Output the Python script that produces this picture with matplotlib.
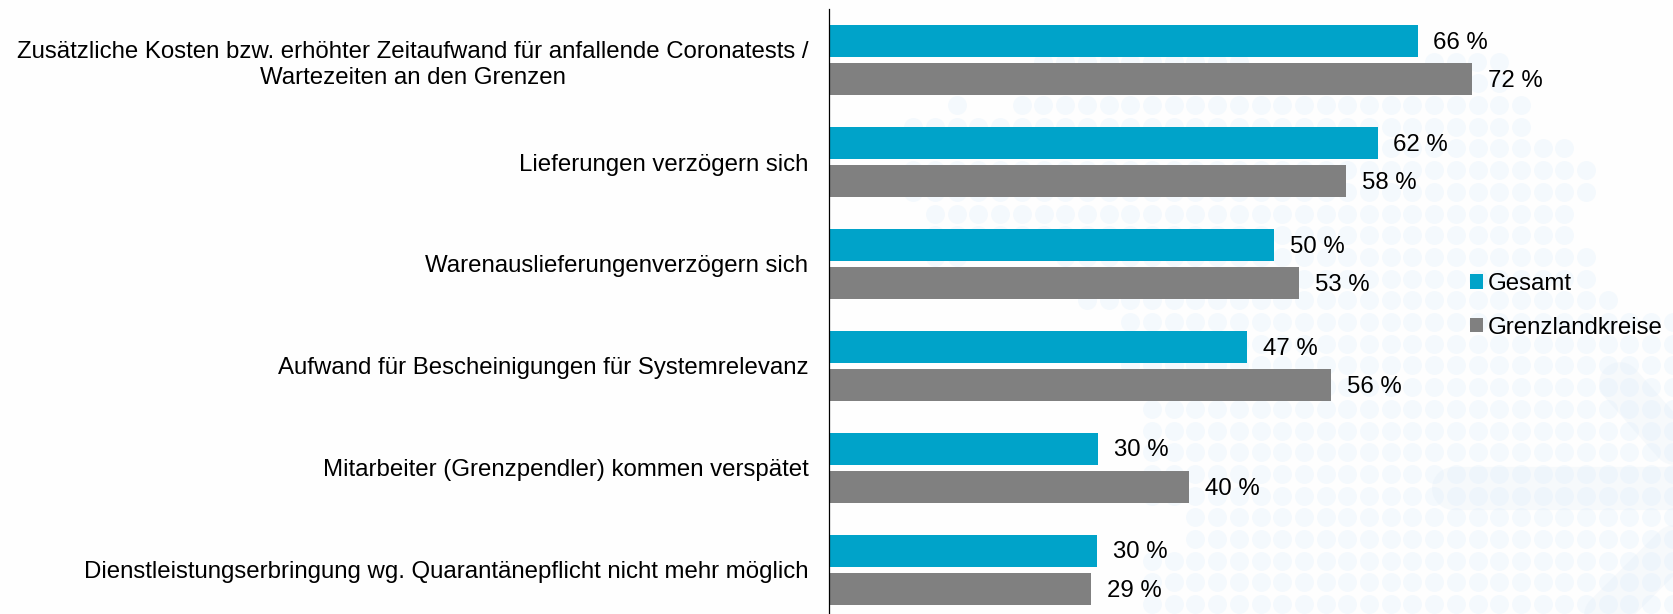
import matplotlib
matplotlib.use("Agg")
import matplotlib.pyplot as plt
from matplotlib.patches import Patch

categories = [
    "Zusätzliche Kosten bzw. erhöhter Zeitaufwand für anfallende Coronatests /\nWartezeiten an den Grenzen",
    "Lieferungen verzögern sich",
    "Warenauslieferungenverzögern sich",
    "Aufwand für Bescheinigungen für Systemrelevanz",
    "Mitarbeiter (Grenzpendler) kommen verspätet",
    "Dienstleistungserbringung wg. Quarantänepflicht nicht mehr möglich",
]
gesamt = [65.9, 61.4, 49.8, 46.8, 30.1, 30.0]
grenzland = [72.0, 57.9, 52.6, 56.2, 40.3, 29.3]
gesamt_labels = ["66 %", "62 %", "50 %", "47 %", "30 %", "30 %"]
grenzland_labels = ["72 %", "58 %", "53 %", "56 %", "40 %", "29 %"]
series_names = ["Gesamt", "Grenzlandkreise"]

# decorative dotted background: rows of (first x, last x) in pixels
bg_rows = [
    (61.6, [(1043, 1260), (1430, 1500)]),
    (83.3, [(1043, 1500)]),
    (105, [(956, 957), (1021, 1522)]),
    (126.7, [(913, 1522)]),
    (148.4, [(913, 1566)]),
    (170.1, [(913, 1588)]),
    (191.8, [(913, 1588)]),
    (213.5, [(934, 1566)]),
    (235.2, [(934, 1566)]),
    (256.9, [(934, 978), (1065, 1588)]),
    (278.6, [(1065, 1588)]),
    (300.3, [(1087, 1610)]),
    (322, [(1130, 1680)]),
    (343.7, [(1130, 1680)]),
    (365.4, [(1130, 1680)]),
    (387.1, [(1130, 1680)]),
    (408.8, [(1152, 1680)]),
    (430.5, [(1152, 1680)]),
    (452.2, [(1152, 1680)]),
    (473.9, [(1152, 1680)]),
    (495.6, [(1152, 1680)]),
    (517.3, [(1195, 1680)]),
    (539, [(1195, 1680)]),
    (560.7, [(1152, 1680)]),
    (582.4, [(1152, 1680)]),
    (604.1, [(1152, 1680)]),
]
bg_bands = [((1453, 488), (1690, 488), 31), ((1620, 383), (1690, 462), 30), ((1690, 530), (1600, 620), 30)]

W, H = 1674, 614
DPI = 100
plt.rcParams["font.family"] = ["Liberation Sans", "DejaVu Sans"]
FS = 17.25

fig = plt.figure(figsize=(W / DPI, H / DPI), dpi=DPI, facecolor="#fefefe")

bg = fig.add_axes([0, 0, 1, 1], zorder=0)
bg.set_xlim(0, W)
bg.set_ylim(H, 0)
bg.axis("off")
pitch = 21.7
xs, ys = [], []
for y, spans in bg_rows:
    for a, b in spans:
        k = round((a - 956.7) / pitch)
        x = 956.7 + k * pitch
        while x <= b:
            xs.append(x)
            ys.append(y)
            x += pitch
bg.scatter(xs, ys, s=185, color="#f4f9fd", linewidths=0, zorder=1)
for p, q, lw in bg_bands:
    bg.plot([p[0], q[0]], [p[1], q[1]], color="#dbe8f4", alpha=0.22, lw=lw,
            solid_capstyle="round", zorder=2)

left_px, top_px = 829.3, 9.2
px_per_pct = 8.93
band_px = 101.9
ax = fig.add_axes([left_px / W, 0, (W - left_px) / W, (H - top_px) / H], zorder=1)
ax.patch.set_alpha(0)
ax.set_xlim(0, (W - left_px) / px_per_pct)
ax.set_ylim(-0.5 + (H - top_px) / band_px, -0.5)

pos = list(range(len(categories)))
h = 32 / band_px
off = 19.15 / band_px
ax.barh([p - off for p in pos], gesamt, height=h, color="#00a3c9", linewidth=0)
ax.barh([p + off for p in pos], grenzland, height=h, color="#808080", linewidth=0)

for p, v, t in zip(pos, gesamt, gesamt_labels):
    ax.annotate(t, (v, p - off), xytext=(11.3, -1.3), textcoords="offset points",
                va="center", ha="left", fontsize=FS, color="black")
for p, v, t in zip(pos, grenzland, grenzland_labels):
    ax.annotate(t, (v, p + off), xytext=(11.3, -1.3), textcoords="offset points",
                va="center", ha="left", fontsize=FS, color="black")

ax.set_yticks(pos)
ax.set_yticklabels(categories, fontsize=FS, color="black", multialignment="center",
                   linespacing=1.26)
ax.tick_params(axis="y", length=0, pad=15)
ax.xaxis.set_visible(False)
for s in ("top", "right", "bottom"):
    ax.spines[s].set_visible(False)
ax.spines["left"].set_color("black")
ax.spines["left"].set_linewidth(0.9)

handles = [Patch(color="#00a3c9", linewidth=0), Patch(color="#808080", linewidth=0)]
fig.legend(handles, series_names, loc="upper left",
           bbox_to_anchor=(1470 / W, 1 - 273 / H), frameon=False, fontsize=FS,
           handlelength=0.54, handleheight=0.54, handletextpad=0.2,
           labelspacing=0.9, borderpad=0, borderaxespad=0, labelcolor="black")

fig.savefig("out.png", dpi=DPI, facecolor=fig.get_facecolor())
